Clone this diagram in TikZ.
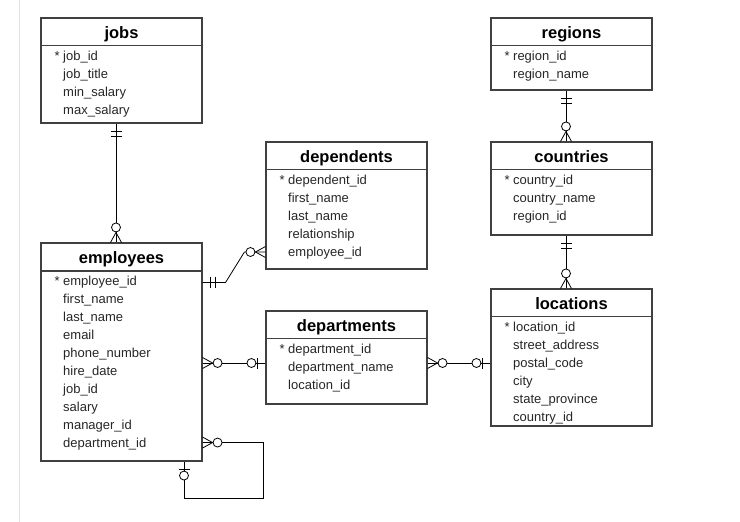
\documentclass[tikz,border=0pt]{standalone}
\usepackage{fontspec}
\setmainfont{Liberation Sans}
\usetikzlibrary{arrows.meta}

\tikzset{
	pics/many/.style={code={
		\draw (0,-5.5) -- (10,0) -- (0,5.5);
		\draw [fill=white] (15,0) circle (4.5pt);
	}},
	pics/one/.style={code={
		\draw (8,-5.5) -- (8,5.5) (13,-5.5) -- (13,5.5);
	}},
	pics/zeroone/.style={code={
		\draw (8,-5.5) -- (8,5.5);
		\draw [fill=white] (14,0) circle (4.5pt);
	}},
}

\begin{document}
\begin{tikzpicture}[x=1pt,y=-1pt]
	\tikzstyle{every node}=[inner sep=0pt]
	\tikzstyle{table}=[draw=black!75, line width=1.1pt, minimum width=161pt]
	\tikzstyle{title}=[anchor=base, font=\bfseries\fontsize{16.5}{19}\selectfont]
	\tikzstyle{field}=[anchor=base west, text=black!85, font=\fontsize{13}{15}\selectfont]
	\tikzstyle{link}=[line width=0.8pt]

	\useasboundingbox (0,0) rectangle (740,522);
	\draw [black!12, line width=0.8pt]  (19,0) -- (19,522);

	%% tables
	\node [table, minimum height=105pt]  (jobs)  at (121.5,70.5)  {};
	\draw [black!75, line width=1.1pt]  ([yshift=-28pt]jobs.north west) -- ([yshift=-28pt]jobs.north east);
	\node [title]  (jobs-title)  at (121.5,38)  {jobs};
	\node [field]  (jobs-1)  at (63,60)  {\llap{* }job\_id};
	\node [field]  (jobs-2)  at (63,78)  {job\_title};
	\node [field]  (jobs-3)  at (63,96)  {min\_salary};
	\node [field]  (jobs-4)  at (63,114)  {max\_salary};

	\node [table, minimum height=218pt]  (employees)  at (121.5,352)  {};
	\draw [black!75, line width=1.1pt]  ([yshift=-28.5pt]employees.north west) -- ([yshift=-28.5pt]employees.north east);
	\node [title]  (employees-title)  at (121.5,263)  {employees};
	\node [field]  (employees-1)  at (63,285)  {\llap{* }employee\_id};
	\node [field]  (employees-2)  at (63,303)  {first\_name};
	\node [field]  (employees-3)  at (63,321)  {last\_name};
	\node [field]  (employees-4)  at (63,339)  {email};
	\node [field]  (employees-5)  at (63,357)  {phone\_number};
	\node [field]  (employees-6)  at (63,375)  {hire\_date};
	\node [field]  (employees-7)  at (63,393)  {job\_id};
	\node [field]  (employees-8)  at (63,411)  {salary};
	\node [field]  (employees-9)  at (63,429)  {manager\_id};
	\node [field]  (employees-10)  at (63,447)  {department\_id};

	\node [table, minimum height=127pt]  (dependents)  at (346.5,205.5)  {};
	\draw [black!75, line width=1.1pt]  ([yshift=-28pt]dependents.north west) -- ([yshift=-28pt]dependents.north east);
	\node [title]  (dependents-title)  at (346.5,162)  {dependents};
	\node [field]  (dependents-1)  at (288,184)  {\llap{* }dependent\_id};
	\node [field]  (dependents-2)  at (288,202)  {first\_name};
	\node [field]  (dependents-3)  at (288,220)  {last\_name};
	\node [field]  (dependents-4)  at (288,238)  {relationship};
	\node [field]  (dependents-5)  at (288,256)  {employee\_id};

	\node [table, minimum height=93pt]  (departments)  at (346.5,357.5)  {};
	\draw [black!75, line width=1.1pt]  ([yshift=-28pt]departments.north west) -- ([yshift=-28pt]departments.north east);
	\node [title]  (departments-title)  at (346.5,331)  {departments};
	\node [field]  (departments-1)  at (288,353)  {\llap{* }department\_id};
	\node [field]  (departments-2)  at (288,371)  {department\_name};
	\node [field]  (departments-3)  at (288,389)  {location\_id};

	\node [table, minimum height=72pt]  (regions)  at (571.5,54)  {};
	\draw [black!75, line width=1.1pt]  ([yshift=-28pt]regions.north west) -- ([yshift=-28pt]regions.north east);
	\node [title]  (regions-title)  at (571.5,38)  {regions};
	\node [field]  (regions-1)  at (513,60)  {\llap{* }region\_id};
	\node [field]  (regions-2)  at (513,78)  {region\_name};

	\node [table, minimum height=93pt]  (countries)  at (571.5,188.5)  {};
	\draw [black!75, line width=1.1pt]  ([yshift=-28pt]countries.north west) -- ([yshift=-28pt]countries.north east);
	\node [title]  (countries-title)  at (571.5,162)  {countries};
	\node [field]  (countries-1)  at (513,184)  {\llap{* }country\_id};
	\node [field]  (countries-2)  at (513,202)  {country\_name};
	\node [field]  (countries-3)  at (513,220)  {region\_id};

	\node [table, minimum height=137pt]  (locations)  at (571.5,357.5)  {};
	\draw [black!75, line width=1.1pt]  ([yshift=-28pt]locations.north west) -- ([yshift=-28pt]locations.north east);
	\node [title]  (locations-title)  at (571.5,309)  {locations};
	\node [field]  (locations-1)  at (513,331)  {\llap{* }location\_id};
	\node [field]  (locations-2)  at (513,349)  {street\_address};
	\node [field]  (locations-3)  at (513,367)  {postal\_code};
	\node [field]  (locations-4)  at (513,385)  {city};
	\node [field]  (locations-5)  at (513,403)  {state\_province};
	\node [field]  (locations-6)  at (513,421)  {country\_id};

	%% relations
	\begin{scope}[link]
	\draw  ([xshift=-5.5pt]jobs.south) coordinate (js) -- ([xshift=-5.5pt]employees.north) coordinate (en);
	\pic [rotate=-90]  at (js)  {one};
	\pic [rotate=90]  at (en)  {many};

	\draw  ([yshift=-40pt]employees.north east) coordinate (ed) -- ++(23,0) -- ([xshift=-21pt,yshift=-46.5pt]dependents.west) -- ([yshift=-46.5pt]dependents.west) coordinate (de);
	\pic  at (ed)  {one};
	\pic [rotate=180]  at (de)  {many};

	\draw  ([yshift=-5.5pt]departments.west) coordinate (dw) -- (dw -| employees.east) coordinate (ee);
	\pic [rotate=180]  at (dw)  {zeroone};
	\pic  at (ee)  {many};

	\draw  ([yshift=-5.5pt]locations.west) coordinate (lw) -- (lw -| departments.east) coordinate (dpe);
	\pic [rotate=180]  at (lw)  {zeroone};
	\pic  at (dpe)  {many};

	\draw  ([yshift=19pt]employees.south east) coordinate (em) -- ++(61,0) -- ++(0,56) -| ([xshift=62.5pt]employees.south) coordinate (es);
	\pic  at (em)  {many};
	\pic [rotate=-90]  at (es)  {zeroone};

	\draw  ([xshift=-5.5pt]regions.south) coordinate (rs) -- ([xshift=-5.5pt]countries.north) coordinate (cn);
	\pic [rotate=-90]  at (rs)  {one};
	\pic [rotate=90]  at (cn)  {many};

	\draw  ([xshift=-5.5pt]countries.south) coordinate (cs) -- ([xshift=-5.5pt]locations.north) coordinate (ln);
	\pic [rotate=-90]  at (cs)  {one};
	\pic [rotate=90]  at (ln)  {many};
	\end{scope}

\end{tikzpicture}
\end{document}
